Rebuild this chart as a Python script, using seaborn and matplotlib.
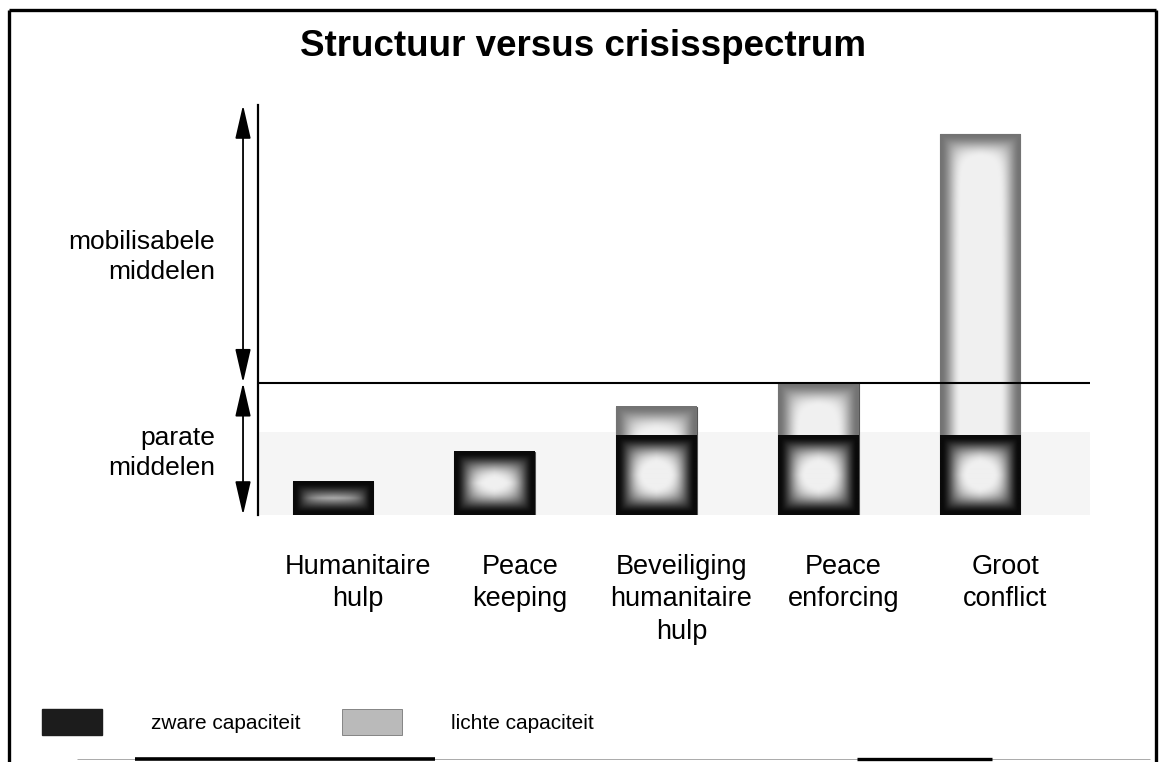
import numpy as np
import matplotlib
matplotlib.use("Agg")
import matplotlib.pyplot as plt
import seaborn as sns
from matplotlib.lines import Line2D
from matplotlib.patches import Patch
from matplotlib.transforms import ScaledTranslation

# Data (units: parate grens = 10)
categories = ["Humanitaire\nhulp", "Peace\nkeeping", "Beveiliging\nhumanitaire\nhulp",
              "Peace\nenforcing", "Groot\nconflict"]
zware = [2.5, 4.8, 6.0, 6.0, 6.0]      # zware capaciteit
lichte = [0.0, 0.0, 2.2, 4.0, 22.8]    # lichte capaciteit
parate_grens = 10.0
y_top = 31.0
legend_labels = ["zware capaciteit", "lichte capaciteit"]

totals = [z + l for z, l in zip(zware, lichte)]

sns.set_theme(style="white", rc={"text.color": "black", "xtick.color": "black",
                                 "axes.labelcolor": "black"})
plt.rcParams["font.family"] = ["Liberation Sans", "DejaVu Sans"]

W, H = 1165, 762
fig = plt.figure(figsize=(W / 100, H / 100), dpi=100)
ax = fig.add_axes([258 / W, 1 - 515 / H, 832 / W, 410 / H])


def shade(ax, patch, y0, y1, edge, centre, solid, ramp, rim_bottom=True):
    # dark rim fading into a lighter centre, like the printed bars
    x0 = patch.get_x()
    x1 = x0 + patch.get_width()
    (px0, py0), (px1, py1) = ax.transData.transform([(x0, y0), (x1, y1)])
    w = max(int(round(px1 - px0)), 2)
    h = max(int(round(py1 - py0)), 2)
    dx = np.minimum(np.arange(w) + 0.5, w - np.arange(w) - 0.5)
    if rim_bottom:
        dy = np.minimum(np.arange(h) + 0.5, h - np.arange(h) - 0.5)
    else:
        dy = np.arange(h) + 0.5          # row 0 is the top of the segment
    p = 2.5
    d = (dx[None, :] ** -p + dy[:, None] ** -p) ** (-1 / p)
    t = np.clip((d - solid) / ramp, 0, 1)
    t = t * t * (3 - 2 * t)
    img = edge + (centre - edge) * t
    ax.imshow(img, cmap="gray", vmin=0, vmax=1, extent=(x0, x1, y0, y1),
              aspect="auto", interpolation="bilinear",
              zorder=patch.get_zorder() + 0.1)


# faint printed band behind the bars
ax.axhspan(0, max(zware) + 0.3, color="#f5f5f5", zorder=0, lw=0)

sns.barplot(x=categories, y=totals, color="#c8c8c8", width=0.5, saturation=1,
            errorbar=None, edgecolor="#555555", linewidth=0.8, ax=ax, zorder=2)
light_bars = list(ax.containers[-1])
sns.barplot(x=categories, y=zware, color="#222222", width=0.5, saturation=1,
            errorbar=None, linewidth=0, ax=ax, zorder=3)
heavy_bars = list(ax.containers[-1])

ax.set_xlim(-0.464, 4.68)
ax.set_ylim(0, y_top)

for bar, z, l in zip(light_bars, zware, lichte):
    if l > 0:
        shade(ax, bar, z, z + l, edge=0.45, centre=0.94, solid=1, ramp=20,
              rim_bottom=False)
for bar, z in zip(heavy_bars, zware):
    shade(ax, bar, 0, z, edge=0.04, centre=0.94, solid=2, ramp=22)

ax.set_xlim(-0.464, 4.68)
ax.set_ylim(0, y_top)

# axis furniture
for side in ["top", "right", "bottom"]:
    ax.spines[side].set_visible(False)
ax.spines["left"].set_color("black")
ax.spines["left"].set_linewidth(1.6)
ax.axhline(parate_grens, color="black", lw=1.5, zorder=5)
ax.set_yticks([])
ax.set_xlabel("")
ax.set_ylabel("")
ax.tick_params(axis="x", length=0, pad=28, labelsize=19.5, labelcolor="black")
shift = ScaledTranslation(0.25, 0, fig.dpi_scale_trans)
for lab in ax.get_xticklabels():
    lab.set_linespacing(1.32)
    lab.set_transform(lab.get_transform() + shift)

# double arrows on the left
ytrans = ax.get_yaxis_transform()
arrow = dict(arrowstyle="<|-|>,head_length=1.3,head_width=0.3", color="black",
             lw=1.3, shrinkA=0, shrinkB=0, mutation_scale=16)
ax.annotate("", xy=(-0.018, y_top), xytext=(-0.018, parate_grens), xycoords=ytrans,
            textcoords=ytrans, arrowprops=arrow, annotation_clip=False)
ax.annotate("", xy=(-0.018, parate_grens), xytext=(-0.018, 0), xycoords=ytrans,
            textcoords=ytrans, arrowprops=arrow, annotation_clip=False)
ax.annotate("mobilisabele\nmiddelen", xy=(0, (parate_grens + y_top) / 2 - 1.0),
            xycoords=ytrans, xytext=(-43, 0), textcoords="offset pixels",
            ha="right", va="center", fontsize=19, linespacing=1.3,
            multialignment="right", annotation_clip=False)
ax.annotate("parate\nmiddelen", xy=(0, parate_grens / 2 - 0.3), xycoords=ytrans,
            xytext=(-43, 0), textcoords="offset pixels", ha="right", va="center",
            fontsize=19, linespacing=1.3, multialignment="right",
            annotation_clip=False)

fig.text(583 / W, 1 - 46 / H, "Structuur versus crisisspectrum", ha="center",
         va="center", fontsize=26.5, fontweight="bold")

handles = [Patch(facecolor="#1c1c1c", edgecolor="#1c1c1c"),
           Patch(facecolor="#bababa", edgecolor="#777777", lw=0.6)]
fig.legend(handles, legend_labels, loc="center left",
           bbox_to_anchor=(42 / W, 1 - 722 / H), ncol=2, frameon=False,
           fontsize=15, handlelength=2.9, handleheight=1.5, handletextpad=2.35,
           columnspacing=1.95, borderpad=0, borderaxespad=0)


# frame of the scanned page
def px(x, y):
    return x / W, 1 - y / H


for (xa, ya), (xb, yb), lw, col in [(px(9, 762), px(9, 10), 2.4, "black"),
                                    (px(9, 10), px(1156, 10), 2.4, "black"),
                                    (px(1156, 10), px(1156, 762), 2.4, "black"),
                                    (px(77, 759), px(1150, 759), 0.7, "#aaaaaa"),
                                    (px(135, 759), px(435, 759), 2.6, "black"),
                                    (px(857, 759), px(992, 759), 2.4, "black")]:
    fig.add_artist(Line2D([xa, xb], [ya, yb], color=col, lw=lw,
                          transform=fig.transFigure, solid_capstyle="butt"))

fig.savefig("out.png", dpi=100)
